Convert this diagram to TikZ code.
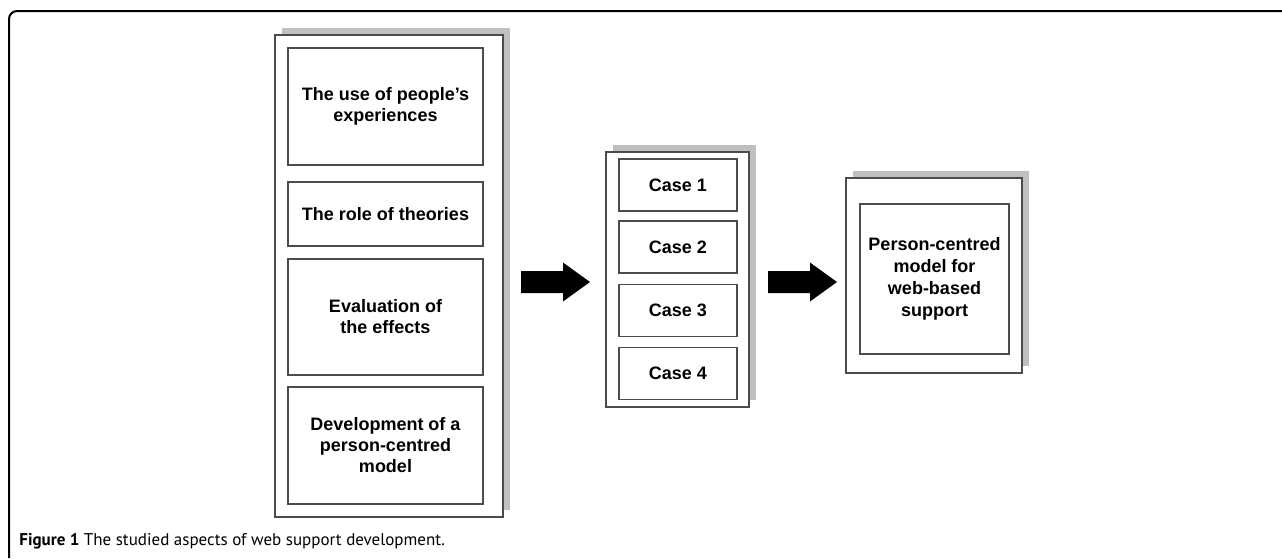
\documentclass[tikz,border=0pt]{standalone}
\usepackage{fontspec}
\setmainfont{Liberation Sans}
\newfontfamily\capfont{PT Sans}
\usetikzlibrary{shapes,shadows,positioning}

\begin{document}
\begin{tikzpicture}[x=0.5pt,y=-0.5pt,
	panel/.style={draw=black!70, line width=0.6pt, fill=white, inner sep=0pt,
		drop shadow={shadow xshift=3.5pt, shadow yshift=3.5pt, fill=black!25, opacity=1}},
	aspect/.style={draw=black!70, line width=0.6pt, fill=white, align=center, inner sep=0pt,
		font=\fontsize{9}{10.5}\selectfont\bfseries},
	bigarrow/.style={fill=black}]
\useasboundingbox(0,0)rectangle(1282,558);
\draw[line width=1pt, rounded corners=4pt](9,558)--(9,11)--(1282,11);
\node[panel, minimum width=114pt, minimum height=241pt](aspects) at (389,276){};
\node[aspect, minimum width=97.5pt, minimum height=58.5pt](use) at (385.5,106.5){The use of people's\\experiences};
\node[aspect, minimum width=97.5pt, minimum height=32pt](role) at (385.5,214){The role of theories};
\node[aspect, minimum width=97.5pt, minimum height=58pt](eval) at (385.5,317){Evaluation of\\the effects};
\node[aspect, minimum width=97.5pt, minimum height=58.5pt](devel) at (385.5,445.5){Development of a\\person-centred\\model};
\node[panel, minimum width=71.5pt, minimum height=127.5pt](cases) at (677.5,279.5){};
\foreach \n/\y in {1/185,2/247,3/310.5,4/373.5}
	\node[aspect, minimum width=59pt, minimum height=26pt](case\n) at (678,\y){Case \n};
\node[panel, minimum width=88pt, minimum height=97.5pt](result) at (934,275.5){};
\node[aspect, minimum width=74.5pt, minimum height=75pt, font=\fontsize{9}{11}\selectfont\bfseries](model) at (934.5,279){Person-centred\\model for\\web-based\\support};
\coordinate(arr1) at (521,282);
\coordinate(arr2) at (768,282);
\foreach \a in {arr1,arr2}
	\fill[bigarrow](\a)--++(0,-11)--++(42,0)--++(0,-8.5)--++(27,19.5)--++(-27,19.5)--++(0,-8.5)--++(-42,0)--cycle;
\node[anchor=base west, inner sep=0pt, font=\capfont\fontsize{8.5}{10}\selectfont](caption) at (19,545){\textbf{Figure 1} The studied aspects of web support development.};
\end{tikzpicture}
\end{document}
